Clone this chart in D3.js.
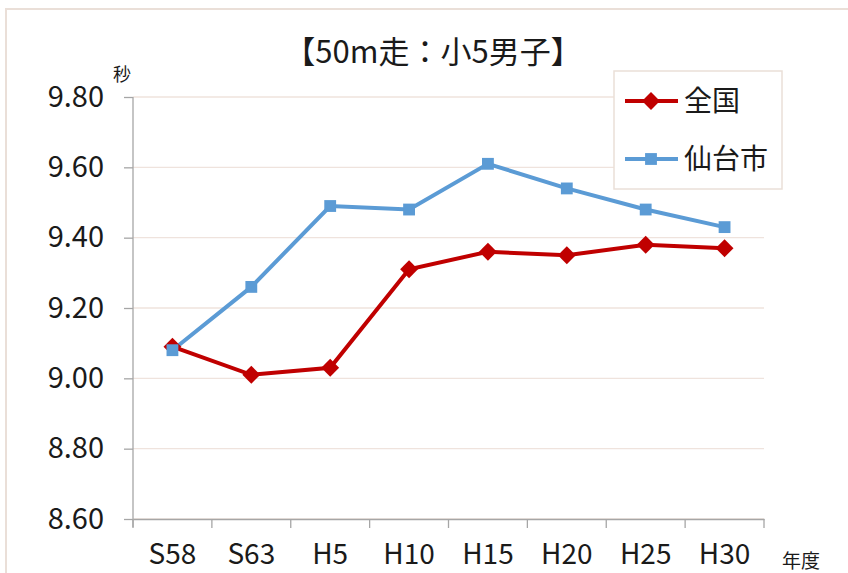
<!DOCTYPE html>
<html>
<head>
<meta charset="utf-8">
<script src="https://d3js.org/d3.v7.min.js"></script>
<style>
  body { margin: 0; padding: 0; background: #fff; }
  svg text { font-family: "Noto Sans CJK JP", "Noto Sans", sans-serif; fill: #1a1a1a; }
</style>
</head>
<body>
<svg id="chart" width="848" height="573"></svg>
<script>
// data
var years = ["S58", "S63", "H5", "H10", "H15", "H20", "H25", "H30"];
var zenkoku = [9.09, 9.01, 9.03, 9.31, 9.36, 9.35, 9.38, 9.37];
var sendai = [9.08, 9.26, 9.49, 9.48, 9.61, 9.54, 9.48, 9.43];
var yTicks = [8.60, 8.80, 9.00, 9.20, 9.40, 9.60, 9.80];

var svg = d3.select("#chart");

// outer frame
svg.append("rect")
    .attr("x", 6).attr("y", 9)
    .attr("width", 900).attr("height", 700)
    .attr("fill", "none")
    .attr("stroke", "#eadfd8")
    .attr("stroke-width", 2);

var x = d3.scaleBand().domain(years).range([133, 764]);
var y = d3.scaleLinear().domain([8.6, 9.8]).range([519, 97]);

// grid
svg.append("g")
    .selectAll("line")
    .data(yTicks)
    .join("line")
    .attr("x1", 133).attr("x2", 764)
    .attr("y1", function(d) { return y(d); })
    .attr("y2", function(d) { return y(d); })
    .attr("stroke", "#efe3dd")
    .attr("stroke-width", 1.3);

// y axis
var yAxis = d3.axisLeft(y).tickValues(yTicks).tickSize(9).tickPadding(20)
    .tickFormat(d3.format(".2f"));
var gy = svg.append("g").attr("transform", "translate(133,0)").call(yAxis);
gy.select(".domain").remove();
gy.selectAll(".tick line").attr("stroke", "#a6a6a6").attr("stroke-width", 1.3);
gy.selectAll(".tick text").attr("font-size", 29).attr("fill", "#1a1a1a")
    .attr("font-family", "Noto Sans, sans-serif");
svg.append("line")
    .attr("x1", 133).attr("x2", 133).attr("y1", 97).attr("y2", 527)
    .attr("stroke", "#a6a6a6").attr("stroke-width", 1.3);

// x axis
var xAxis = d3.axisBottom(x).tickSize(0).tickPadding(25);
var gx = svg.append("g").attr("transform", "translate(0,519)").call(xAxis);
gx.select(".domain").attr("stroke", "#a6a6a6").attr("stroke-width", 1.3);
gx.selectAll(".tick text").attr("font-size", 28).attr("fill", "#1a1a1a")
    .attr("font-family", "Noto Sans, sans-serif");
var bounds = years.map(function(d) { return x(d); }).concat([x.range()[1]]);
svg.append("g").selectAll("line")
    .data(bounds)
    .join("line")
    .attr("x1", function(d) { return d; }).attr("x2", function(d) { return d; })
    .attr("y1", 519).attr("y2", 528)
    .attr("stroke", "#a6a6a6").attr("stroke-width", 1.3);

// unit labels
svg.append("text").attr("x", 122).attr("y", 81).attr("text-anchor", "middle")
    .attr("font-size", 18).text("秒");
svg.append("text").attr("x", 801).attr("y", 568).attr("text-anchor", "middle")
    .attr("font-size", 19).text("年度");

// title
svg.append("text").attr("x", 433).attr("y", 63).attr("text-anchor", "middle")
    .attr("font-size", 31).attr("fill", "#262626").text("【50m走：小5男子】");

// lines
var cx = function(d, i) { return x(years[i]) + x.bandwidth() / 2; };
var line = d3.line().x(cx).y(function(d) { return y(d); });

svg.append("path").datum(sendai)
    .attr("d", line).attr("fill", "none")
    .attr("stroke", "#5b9bd5").attr("stroke-width", 4);
svg.append("path").datum(zenkoku)
    .attr("d", line).attr("fill", "none")
    .attr("stroke", "#c00000").attr("stroke-width", 4);

var diamond = d3.symbol().type(d3.symbolSquare).size(160);
svg.append("g").selectAll("path")
    .data(zenkoku)
    .join("path")
    .attr("d", diamond)
    .attr("transform", function(d, i) { return "translate(" + cx(d, i) + "," + y(d) + ") rotate(45)"; })
    .attr("fill", "#c00000");

var square = d3.symbol().type(d3.symbolSquare).size(140);
svg.append("g").selectAll("path")
    .data(sendai)
    .join("path")
    .attr("d", square)
    .attr("transform", function(d, i) { return "translate(" + cx(d, i) + "," + y(d) + ")"; })
    .attr("fill", "#5b9bd5");

// legend
var lg = svg.append("g");
lg.append("rect").attr("x", 614).attr("y", 71).attr("width", 168).attr("height", 118)
    .attr("fill", "#fff").attr("stroke", "#eadfd8").attr("stroke-width", 1.5);
var legendItems = [
    { name: "全国", color: "#c00000", sym: diamond, rot: 45, y: 101 },
    { name: "仙台市", color: "#5b9bd5", sym: square, rot: 0, y: 159 }
];
legendItems.forEach(function(d) {
    lg.append("line").attr("x1", 625).attr("x2", 678).attr("y1", d.y).attr("y2", d.y)
        .attr("stroke", d.color).attr("stroke-width", 4);
    lg.append("path").attr("d", d.sym)
        .attr("transform", "translate(651," + d.y + ") rotate(" + d.rot + ")")
        .attr("fill", d.color);
    lg.append("text").attr("x", 684).attr("y", d.y + 10).attr("font-size", 28).text(d.name);
});
</script>
</body>
</html>
